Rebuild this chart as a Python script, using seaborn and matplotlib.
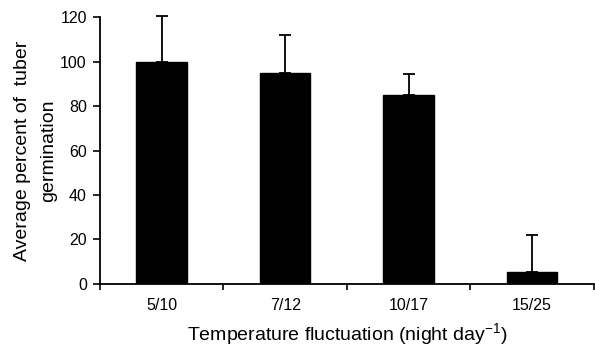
import matplotlib
matplotlib.use("Agg")
import matplotlib.pyplot as plt
import seaborn as sns
import pandas as pd

categories = ["5/10", "7/12", "10/17", "15/25"]
means = [100, 95, 85, 5.5]
upper_err = [20.5, 17, 9.5, 16.5]
ylabel_lines = ["Average percent of  tuber", "germination"]

sns.set_style("white")
plt.rcParams['font.family'] = ['Liberation Sans', 'DejaVu Sans']
plt.rcParams['mathtext.fontset'] = 'custom'
plt.rcParams['mathtext.rm'] = 'Liberation Sans'
plt.rcParams['mathtext.it'] = 'Liberation Sans'
plt.rcParams['text.color'] = 'black'
plt.rcParams['axes.labelcolor'] = 'black'
plt.rcParams['xtick.color'] = 'black'
plt.rcParams['ytick.color'] = 'black'

df = pd.DataFrame({"cat": categories, "val": means})

fig = plt.figure(figsize=(5.95, 3.48), dpi=100)
ax = fig.add_axes([0.168, 0.184, 0.830, 0.767])

sns.barplot(data=df, x="cat", y="val", color="black", width=0.41,
            saturation=1, errorbar=None, ax=ax, edgecolor="black")
eb = ax.errorbar(range(len(categories)), means,
                 yerr=[[0]*len(means), upper_err], fmt="none",
                 ecolor="black", elinewidth=1.3, capsize=4, capthick=1.3)
for art in eb.lines[1] + eb.lines[2]:
    art.set_clip_on(False)

tfs = 11.5
lfs = 14
ax.set_ylim(0, 120)
ax.set_xlim(-0.5, 3.5)
ax.set_yticks([0, 20, 40, 60, 80, 100, 120])
ax.set_xticks([-0.5, 0.5, 1.5, 2.5, 3.5], minor=True)
ax.tick_params(axis="x", which="major", length=0, pad=10, labelsize=tfs, colors="black")
ax.tick_params(axis="x", which="minor", length=4, width=1.2, direction="out", bottom=True, colors="black")
ax.tick_params(axis="y", length=5, width=1.2, direction="out", left=True, labelsize=tfs, pad=4.5, colors="black")

for s in ["top", "right"]:
    ax.spines[s].set_visible(False)
for s in ["left", "bottom"]:
    ax.spines[s].set_color("black")
    ax.spines[s].set_linewidth(1.3)

ax.set_xlabel(r"Temperature fluctuation (night day$^{\mathregular{-1}}$)", fontsize=lfs,
              color="black", va="baseline")
ax.xaxis.set_label_coords(0.5, -0.211)
ax.set_ylabel("")
for xpos, line in zip([0.0454, 0.089], ylabel_lines):
    fig.text(xpos, 0.566, line, rotation=90, rotation_mode="anchor",
             ha="center", va="baseline", fontsize=lfs, color="black")

fig.savefig("out.png", dpi=100)
